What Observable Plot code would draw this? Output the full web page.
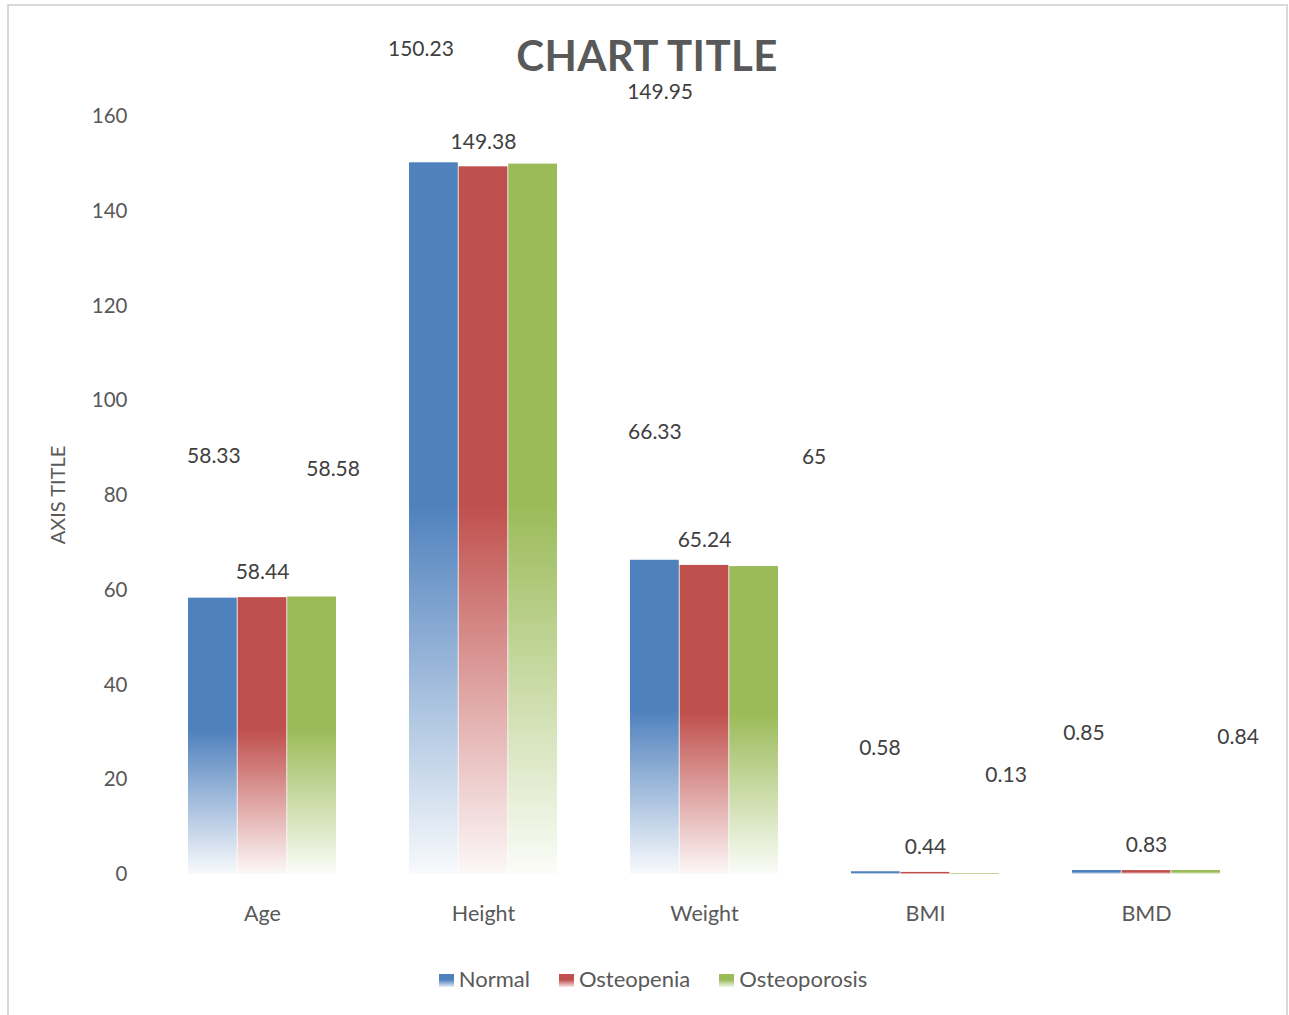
<!DOCTYPE html>
<html>
<head>
<meta charset="utf-8">
<script src="https://cdn.jsdelivr.net/npm/d3@7"></script>
<script src="https://cdn.jsdelivr.net/npm/@observablehq/plot@0.6"></script>
<style>
  html, body { margin: 0; padding: 0; background: #fff; }
  #wrap { position: relative; width: 1289px; height: 1015px; overflow: hidden; font-family: Lato, "Open Sans", sans-serif; }
  #frame { position: absolute; left: 7px; top: 4px; width: 1281px; height: 1030px; border: 2px solid #d9d9d9; box-sizing: border-box; }
  #chart { position: absolute; left: 0; top: 0; }
  #title { position: absolute; left: 0; width: 1294px; top: 31px; text-align: center; font-size: 42px; font-weight: bold; color: #595959; line-height: 48px; letter-spacing: 0.4px; }
  #ytitle { position: absolute; left: 57px; top: 495px; transform: translate(-50%, -50%) rotate(-90deg); font-size: 20px; color: #595959; white-space: nowrap; }
  #legend { position: absolute; top: 965px; left: 0; width: 1306px; display: flex; justify-content: center; gap: 29px; font-size: 22px; color: #595959; }
  .item { display: flex; align-items: center; }
  .sw { width: 15px; height: 13px; margin-right: 5px; margin-top: 3px; }
</style>
</head>
<body>
<div id="wrap">
  <svg width="0" height="0" style="position:absolute">
    <defs id="defs"></defs>
  </svg>
  <div id="frame"></div>
  <div id="chart"></div>
  <div id="title">CHART TITLE</div>
  <div id="ytitle">AXIS TITLE</div>
  <div id="legend"></div>
</div>
<script>
// ---- data ----
const categories = ["Age", "Height", "Weight", "BMI", "BMD"];
const seriesNames = ["Normal", "Osteopenia", "Osteoporosis"];
const normal = [58.33, 150.23, 66.33, 0.58, 0.85];
const osteopenia = [58.44, 149.38, 65.24, 0.44, 0.83];
const osteoporosis = [58.58, 149.95, 65, 0.13, 0.84];
const yTicks = [0, 20, 40, 60, 80, 100, 120, 140, 160];

// ---- styling ----
const colors = ["#4F81BD", "#C0504D", "#9BBB59"];
const gradIds = ["gNormal", "gOsteopenia", "gOsteoporosis"];
// label displacement (px) from the default bar-top position, as in the original
const labelShift = [
  [[1, -142], [0, -25], [21, -128]],
  [[-13, -114], [0, -25], [127, -72]],
  [[0, -128], [0, -25], [60, -109]],
  [[4, -123], [0, -25], [31, -99]],
  [[-13, -137], [0, -25], [42, -133]]
];

const values = [normal, osteopenia, osteoporosis];
const rows = [];
seriesNames.forEach((s, si) => categories.forEach((c, ci) => rows.push({category: c, series: s, si, ci, value: values[si][ci]})));

// gradients
const defs = document.getElementById("defs");
colors.forEach((col, i) => {
  defs.insertAdjacentHTML("beforeend",
    `<linearGradient id="${gradIds[i]}" x1="0" y1="0" x2="0" y2="1">
       <stop offset="0" stop-color="${col}"/>
       <stop offset="0.48" stop-color="${col}"/>
       <stop offset="1" stop-color="${col}" stop-opacity="0.04"/>
     </linearGradient>`);
});

const W = 1289, H = 1015;
const mL = 150, mR = 30;
const pInner = 0.329, pOuter = pInner / 2;
const step = (W - mL - mR) / (categories.length - pInner + 2 * pOuter);
const bw = step * (1 - pInner);
const third = bw / 3;

const marks = [];
seriesNames.forEach((s, si) => {
  marks.push(Plot.barY(rows.filter(r => r.si === si), {
    x: "category",
    y: "value",
    fill: `url(#${gradIds[si]})`,
    insetLeft: si * third,
    insetRight: (2 - si) * third
  }));
});
rows.forEach(r => {
  const [dx, dy] = labelShift[r.ci][r.si];
  marks.push(Plot.text([r], {
    x: "category",
    y: "value",
    text: d => String(d.value),
    dx: (r.si - 1) * third + dx,
    dy: dy,
    fill: "#404040",
    fontSize: 21
  }));
});

const chart = Plot.plot({
  width: W,
  height: H,
  marginTop: 116,
  marginBottom: 141,
  marginLeft: mL,
  marginRight: mR,
  style: {fontFamily: "Lato, 'Open Sans', sans-serif", fontSize: "20.5px", color: "#595959", background: "transparent", overflow: "visible"},
  x: {domain: categories, paddingInner: pInner, paddingOuter: pOuter, tickSize: 0, tickPadding: 31, label: null},
  y: {domain: [0, 160], ticks: yTicks, tickSize: 0, tickPadding: 23, label: null},
  marks
});
chart.querySelectorAll("g[aria-label='x-axis tick label'] text, g[aria-label='x-axis'] text").forEach(t => t.setAttribute("font-size", "21.5"));
document.getElementById("chart").appendChild(chart);

// legend
const lg = document.getElementById("legend");
seriesNames.forEach((s, i) => {
  lg.insertAdjacentHTML("beforeend",
    `<div class="item"><div class="sw" style="background:linear-gradient(${colors[i]} 45%, ${colors[i]}22)"></div><span>${s}</span></div>`);
});
</script>
</body>
</html>
